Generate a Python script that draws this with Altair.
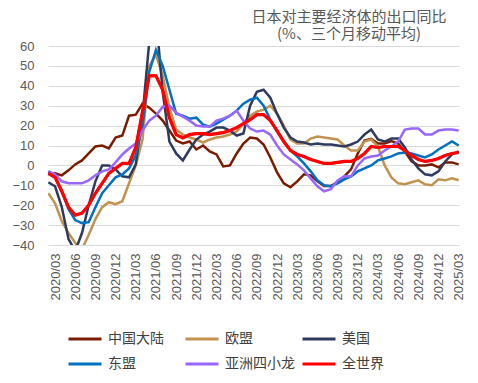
import altair as alt
import pandas as pd

# Month categories: 2020/02 .. 2025/03
months = []
for i in range(62):
    y = 2020 + (1 + i) // 12
    m = (1 + i) % 12 + 1
    months.append(f"{y}/{m:02d}")
tick_labels = months[1::3]

names = ["中国大陆", "欧盟", "美国", "东盟", "亚洲四小龙", "全世界"]
colors = ["#7a1c00", "#c3924f", "#2f3b5c", "#0070c0", "#9966ff", "#ff0000"]

china = [-4.5, -4, -5, -2.5, 0.5, 2.5, 6, 9.5, 10, 8.5,
         14, 15, 25, 25.5, 31, 29, 26, 22.5, 17.5, 12.5,
         11, 12, 8, 10, 7, 5.5, -0.5, 0, 6, 11,
         14, 13.5, 10.5, 4, -3.5, -9, -11, -8, -4.5, -5,
         -8, -10.3, -10.3, -8.5, -5.5, -2, 6, 12.5, 13.3, 11,
         11, 12.2, 11, 7, 2, 0, 0, 0.5, -1, 1.5,
         1.5, 0.5]
eu = [-14, -19, -28, -34, -39, -42, -35, -27, -21, -18.5,
      -19.5, -18, -9, 0, 13, 50, 55.5, 45, 29, 18,
      15.5, 14, 13, 11.5, 13, 14, 14.5, 15.5, 17, 21,
      25, 27, 28, 30, 26, 20, 13, 11, 11, 13.5,
      14.5, 14, 13.5, 13, 10, 7.5, 7.5, 12, 13, 9.5,
      0, -6, -9, -9.5, -8.5, -7.5, -9.5, -10, -7, -7.5,
      -6.5, -7.5]
usa = [-8.5, -10.5, -21, -37, -43, -34, -20, -8, 0, 0,
       -2, -5.5, -6, 0.5, 25, 62, 75, 37, 12, 6,
       2.5, 8, 13, 15.5, 17, 19, 19, 17.5, 15, 16,
       30, 37, 38, 34, 26, 19, 14, 12, 11.5, 10.5,
       11, 10.5, 10.5, 10, 9.5, 10.5, 12, 15.5, 18, 13,
       12, 13.5, 13.5, 9, 3, -1.5, -4.5, -5, -3, 2,
       5.5, 7]
asean = [-3, -5.5, -13, -22, -27.5, -29, -28.5, -21, -14, -10,
         -6, -4.5, -1.5, 5, 20, 47, 58, 50, 38, 26,
         25, 23.5, 24, 20.5, 19.5, 21, 23, 25, 27.5, 31,
         33, 34, 30, 23, 17, 12, 7.5, 4.5, 1, -3,
         -7.5, -10, -10.5, -9, -7, -5.5, -3, -1.5, 0, 2.5,
         3.5, 4.5, 6, 6.5, 6, 5, 4, 5.5, 8, 10,
         12, 10]
dragons = [-3, -4.5, -8, -9, -9, -9, -7.5, -5, -3, -2,
           1.5, 5.5, 8.5, 11, 17.5, 22.5, 25, 29.5, 30, 26.5,
           24.5, 22.5, 20, 19.5, 19.5, 22.5, 23.5, 25, 27.5, 22.5,
           18.5, 17, 17.5, 15.5, 10, 5.5, 3, 0.5, -2.5, -6.5,
           -10.5, -13, -12, -7.5, -5.5, -5.5, 0, 3.5, 4.5, 5,
           7.5, 9.5, 12, 18, 18.5, 18.5, 15.5, 15.5, 17.5, 18,
           18, 17.5]
world = [-4, -6, -13, -21, -25, -24, -20, -14, -9, -4,
         -1.5, 1, 1, 9, 27, 45, 45, 38, 24, 15.5,
         13.8, 15.5, 16, 16, 15.5, 16, 16.5, 17.5, 19, 21,
         23, 25.5, 25.5, 22.5, 17.5, 12, 7.5, 5.5, 4.5, 3,
         2, 1, 1, 1.5, 2, 2, 3.5, 6, 9.5, 9,
         9.5, 9.5, 9.5, 7.5, 5, 3, 2, 2.5, 3.5, 5,
         6, 6.5]

series = [china, eu, usa, asean, dragons, world]
rows = []
for name, vals in zip(names, series):
    for mo, v in zip(months, vals):
        rows.append({"month": mo, "value": v, "series": name})
df = pd.DataFrame(rows)

num_font = "Liberation Sans"
cjk_font = "Noto Sans CJK SC"

x_enc = alt.X("month:O", sort=months, title=None,
              scale=alt.Scale(type="point", padding=0.05),
              axis=alt.Axis(values=tick_labels, labelAngle=270, labelFont=num_font,
                            labelFontSize=13, labelColor="#595959", domain=False,
                            ticks=False, grid=False, labelPadding=8))
y_enc = alt.Y("value:Q", title=None,
              scale=alt.Scale(domain=[-40, 60], nice=False, zero=False),
              axis=alt.Axis(values=list(range(-40, 61, 10)), labelFont=num_font,
                            labelFontSize=13, labelColor="#595959", domain=False,
                            ticks=False, gridColor="#d9d9d9", gridWidth=1,
                            labelPadding=14))
color_enc = alt.Color("series:N", sort=names,
                      scale=alt.Scale(domain=names, range=colors),
                      legend=alt.Legend(title=None, orient="none", legendX=19, legendY=275,
                                        direction="horizontal",
                                        columns=3, gridAlign="all", symbolType="stroke",
                                        symbolSize=1089, symbolStrokeWidth=3,
                                        labelFont=cjk_font, labelFontSize=14,
                                        labelColor="#404040", labelOffset=5,
                                        columnPadding=1, rowPadding=-7))

base = alt.Chart(df)
lines = base.mark_line(clip=True, strokeWidth=2.5).encode(x=x_enc, y=y_enc, color=color_enc)
world_line = base.transform_filter(alt.datum.series == "全世界").mark_line(
    clip=True, strokeWidth=3.2).encode(x=x_enc, y=y_enc, color=color_enc)

chart = alt.layer(lines, world_line).properties(
    width=411,
    height=199,
    autosize=alt.AutoSizeParams(type="none"),
    padding={"left": 40, "top": 38, "right": 10, "bottom": 130},
    title=alt.TitleParams(text="日本对主要经济体的出口同比",
                          subtitle="(%、三个月移动平均)",
                          anchor="end", align="center", dx=-110, dy=10, font=cjk_font,
                          fontSize=15, fontWeight="normal", color="#595959",
                          subtitleFont=cjk_font, subtitleFontSize=15,
                          subtitleColor="#595959", subtitlePadding=2,
                          offset=8, frame="group"),
).configure_view(stroke=None)

chart.save("out.html", embed_options={"renderer": "svg", "actions": False})
